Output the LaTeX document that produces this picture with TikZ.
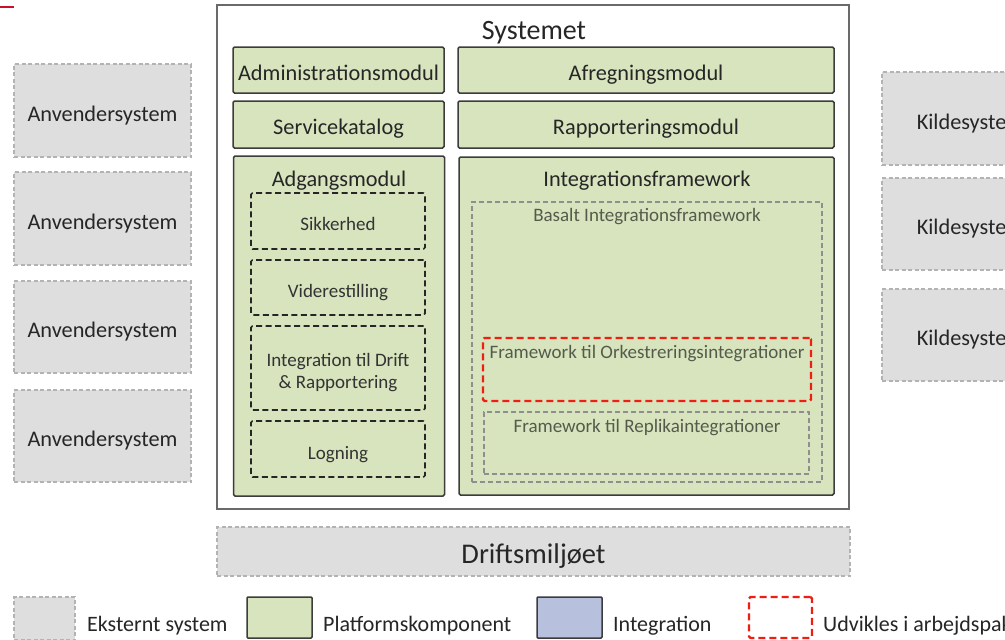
\documentclass[tikz,border=0pt]{standalone}
\usepackage{fontspec}
\setmainfont{Carlito}
\definecolor{platfill}{HTML}{D7E4BD}
\definecolor{platline}{HTML}{3C3C3C}
\definecolor{extfill}{HTML}{DEDEDE}
\definecolor{extline}{HTML}{B3B3B3}
\definecolor{intfill}{HTML}{B7C1DE}
\definecolor{redline}{HTML}{F01E12}
\definecolor{outerline}{HTML}{6A6A6A}
\definecolor{greyline}{HTML}{8E8E8E}
\definecolor{greytext}{HTML}{555B4C}
\definecolor{txt}{HTML}{262626}
\definecolor{corner}{HTML}{C8102E}
\tikzset{
  fbig/.style={font=\fontsize{22.3}{25}\selectfont},
  fsmall/.style={font=\fontsize{19}{22}\selectfont},
  extbox/.style={draw=extline, fill=extfill, line width=1.1pt, dash pattern=on 4pt off 2.5pt,
    text=txt, fbig, inner sep=0pt, text height=21pt, text depth=0pt},
  platbox/.style={draw=platline, fill=platfill, line width=1.5pt, rounded corners=1.5pt,
    text=txt, fbig, inner sep=0pt, text height=20pt, text depth=0pt},
  subbox/.style={draw=black!85, line width=1.7pt, dash pattern=on 6pt off 3.5pt,
    rounded corners=1.5pt, text=black!80, fsmall, inner sep=0pt, text height=19pt, text depth=0pt},
  gbox/.style={draw=greyline, line width=1.2pt, dash pattern=on 5pt off 3pt, inner sep=0pt},
  rbox/.style={draw=redline, line width=2.4pt, dash pattern=on 7pt off 4pt, rounded corners=1.5pt, inner sep=0pt},
  lbl/.style={inner sep=0pt, text=txt, anchor=base},
  glbl/.style={inner sep=0pt, text=greytext, fsmall, anchor=base},
  legtxt/.style={inner sep=0pt, anchor=base west, text=txt, font=\fontsize{22}{25}\selectfont},
}
\begin{document}
\begin{tikzpicture}[x=1pt,y=-1pt]
\useasboundingbox (0,0) rectangle (1005,640);
\fill[white] (0,0) rectangle (1005,640);
% corner mark
\draw[corner, line width=2pt] (0,7) -- (14,7);

% outer system box
\node[draw=outerline, line width=1.5pt, fill=white, minimum width=632pt, minimum height=504pt, inner sep=0pt] (sys) at (533,257) {};
\node[lbl, font=\fontsize{28}{30}\selectfont] (systitle) at (534,39) {Systemet};

% left column
\node[platbox, minimum width=211pt, minimum height=46pt] (admin) at (338.5,70) {Administrationsmodul};
\node[platbox, minimum width=211pt, minimum height=47pt] (service) at (338.5,124.5) {Servicekatalog};
\node[platbox, minimum width=211pt, minimum height=340pt] (adgang) at (339,326) {};
\node[lbl, fbig] (adgangt) at (339,186.5) {Adgangsmodul};
\node[subbox, minimum width=174pt, minimum height=56pt] (sik) at (338,221) {Sikkerhed};
\node[subbox, minimum width=174pt, minimum height=55pt] (vid) at (338,287.5) {Viderestilling};
\node[subbox, minimum width=174pt, minimum height=84pt] (intdrift) at (338,368) {};
\node[lbl, fsmall, text=black!80] (intdrift1) at (338,366) {Integration til Drift};
\node[lbl, fsmall, text=black!80] (intdrift2) at (338,388) {\& Rapportering};
\node[subbox, minimum width=174pt, minimum height=56pt] (log) at (338,449) {};
\node[lbl, fsmall, text=black!80] (logt) at (338,459) {Logning};

% right column
\node[platbox, minimum width=376pt, minimum height=46pt] (afreg) at (646,70) {Afregningsmodul};
\node[platbox, minimum width=376pt, minimum height=47pt] (rapp) at (646,124.5) {Rapporteringsmodul};
\node[platbox, minimum width=375pt, minimum height=338pt] (integ) at (646.5,326) {};
\node[lbl, fbig] (integt) at (647,186) {Integrationsframework};
\node[gbox, minimum width=350pt, minimum height=280pt] (basalt) at (647,342) {};
\node[glbl] (basaltt) at (647,221) {Basalt Integrationsframework};
\node[rbox, minimum width=328pt, minimum height=63pt] (orke) at (647,369.5) {};
\node[glbl] (orket) at (647,358) {Framework til Orkestreringsintegrationer};
\node[gbox, minimum width=325pt, minimum height=62pt] (repl) at (646.5,443) {};
\node[glbl] (replt) at (647,432) {Framework til Replikaintegrationer};

% external systems left
\node[extbox, minimum width=177pt, minimum height=93pt] (anv1) at (102.5,110.5) {Anvendersystem};
\node[extbox, minimum width=177pt, minimum height=93pt] (anv2) at (102.5,218.5) {Anvendersystem};
\node[extbox, minimum width=177pt, minimum height=92pt] (anv3) at (102.5,327) {Anvendersystem};
\node[extbox, minimum width=177pt, minimum height=92pt] (anv4) at (102.5,436) {Anvendersystem};

% external systems right
\node[extbox, minimum width=177pt, minimum height=93pt] (kil1) at (970.5,118.5) {Kildesystem};
\node[extbox, minimum width=177pt, minimum height=92pt] (kil2) at (970.5,224) {Kildesystem};
\node[extbox, minimum width=177pt, minimum height=92pt] (kil3) at (970.5,335) {Kildesystem};

% operations environment
\node[extbox, minimum width=633pt, minimum height=49pt, font=\fontsize{28.5}{30}\selectfont, text height=23pt] (drift) at (533.5,551.5) {Driftsmiljøet};

% legend
\node[extbox, minimum width=61pt, minimum height=43pt] (legext) at (44.5,618.5) {};
\node[legtxt] (legextt) at (87,631) {Eksternt system};
\node[draw=platline, fill=platfill, line width=1.5pt, rounded corners=1pt, minimum width=65pt, minimum height=41pt, inner sep=0pt] (legplat) at (279.5,617.5) {};
\node[legtxt] (legplatt) at (323,631) {Platformskomponent};
\node[draw=platline, fill=intfill, line width=1.5pt, rounded corners=1pt, minimum width=65pt, minimum height=41pt, inner sep=0pt] (legint) at (569.5,617.5) {};
\node[legtxt] (leginttx) at (613,631) {Integration};
\node[rbox, minimum width=63pt, minimum height=41pt] (legred) at (780.5,617.5) {};
\node[legtxt] (legredt) at (823,631) {Udvikles i arbejdspakke};
\end{tikzpicture}
\end{document}
